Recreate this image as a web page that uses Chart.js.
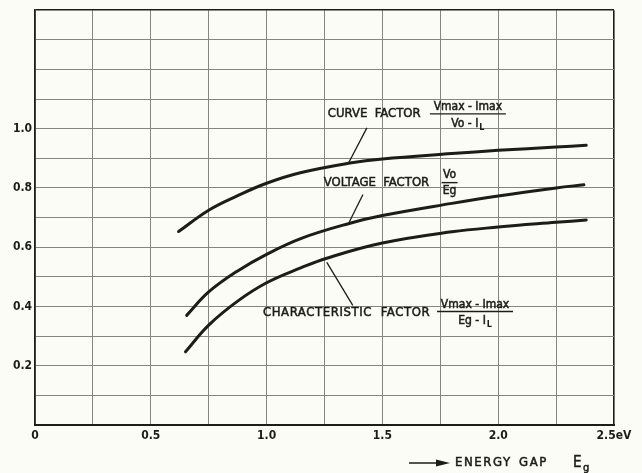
<!DOCTYPE html>
<html>
<head>
<meta charset="utf-8">
<script src="https://cdn.jsdelivr.net/npm/chart.js@4.4.0/dist/chart.umd.min.js"></script>
<style>
  html, body { margin: 0; padding: 0; background: #fcfcf6; }
  #wrap { width: 642px; height: 473px; }
</style>
</head>
<body>
<div id="wrap"><canvas id="grafico" width="642" height="473"></canvas></div>
<script>
// energia do gap (eV) e fatores
const cfX = [0.62, 0.75, 0.875, 1.0, 1.15, 1.36, 1.5, 1.8, 2.0, 2.25, 2.38];
const cfY = [0.653, 0.725, 0.774, 0.816, 0.852, 0.884, 0.898, 0.916, 0.927, 0.938, 0.944];

const vfX = [0.655, 0.75, 0.875, 1.0, 1.15, 1.36, 1.5, 1.8, 2.0, 2.25, 2.37];
const vfY = [0.37, 0.449, 0.52, 0.576, 0.63, 0.681, 0.707, 0.748, 0.773, 0.80, 0.811];

const chX = [0.65, 0.75, 0.875, 1.0, 1.15, 1.26, 1.5, 1.8, 2.0, 2.25, 2.38];
const chY = [0.247, 0.337, 0.418, 0.48, 0.531, 0.563, 0.614, 0.652, 0.668, 0.684, 0.692];

const xLabels = { 0: '0', 5: '0.5', 10: '1.0', 15: '1.5', 20: '2.0', 25: '2.5eV' };
const yLabels = { 2: '0.2', 4: '0.4', 6: '0.6', 8: '0.8', 10: '1.0' };

const FONTE = '"DejaVu Sans Condensed", "Liberation Sans Narrow", sans-serif';
const TINTA = '#1c1c18';
const GRADE = '#86867c';

function pontos(xs, ys) {
    return xs.map((x, i) => ({ x: x, y: ys[i] }));
}

function serie(nome, xs, ys) {
    return {
        label: nome,
        data: pontos(xs, ys),
        showLine: true,
        borderColor: TINTA,
        borderWidth: 3,
        borderCapStyle: 'round',
        pointRadius: 0,
        tension: 0.4,
        fill: false
    };
}

// texto com traco um pouco mais grosso, como letreiro a nanquim
function escrever(ctx, txt, x, y) {
    ctx.lineWidth = 0.5;
    ctx.fillText(txt, x, y);
    ctx.strokeText(txt, x, y);
}

// fracao do tipo  num / den  centrada em cx
function fracao(ctx, cx, yNum, yBar, yDen, num, den, sub, meia) {
    ctx.textAlign = 'center';
    escrever(ctx, num, cx, yNum);
    ctx.beginPath();
    ctx.lineWidth = 1.4;
    ctx.moveTo(cx - meia, yBar);
    ctx.lineTo(cx + meia, yBar);
    ctx.stroke();
    if (sub) {
        const w = ctx.measureText(den).width;
        escrever(ctx, den, cx - 3, yDen);
        const f = ctx.font;
        ctx.font = 'bold 9px ' + FONTE;
        ctx.textAlign = 'left';
        ctx.fillText(sub, cx - 3 + w / 2 + 1, yDen + 4);
        ctx.font = f;
    } else {
        escrever(ctx, den, cx, yDen);
    }
}

const anotacoes = {
    id: 'anotacoes',
    afterDatasetsDraw(chart) {
        const ctx = chart.ctx;
        const sx = chart.scales.x, sy = chart.scales.y;
        const px = v => sx.getPixelForValue(v);
        const py = v => sy.getPixelForValue(v);
        ctx.save();
        ctx.fillStyle = TINTA;
        ctx.strokeStyle = TINTA;
        ctx.textBaseline = 'middle';

        // linhas de chamada
        ctx.lineWidth = 1.3;
        [[1.433, 1.003, 1.355, 0.886],
         [1.416, 0.778, 1.357, 0.685],
         [1.26, 0.549, 1.372, 0.404]].forEach(l => {
            ctx.beginPath();
            ctx.moveTo(px(l[0]), py(l[1]));
            ctx.lineTo(px(l[2]), py(l[3]));
            ctx.stroke();
        });

        ctx.font = '13px ' + FONTE;
        ctx.textAlign = 'left';
        escrever(ctx, 'CURVE  FACTOR', px(1.264), py(1.05));
        escrever(ctx, 'VOLTAGE  FACTOR', px(1.247), py(0.818));
        ctx.letterSpacing = '0.6px';
        escrever(ctx, 'CHARACTERISTIC  FACTOR', px(0.984), py(0.38));
        ctx.letterSpacing = '0px';

        ctx.font = '12px ' + FONTE;
        fracao(ctx, px(1.869), py(1.074), py(1.05), py(1.018), 'Vmax - Imax', 'Vo - I', 'L', 38);
        fracao(ctx, px(1.79), py(0.845), py(0.818), py(0.789), 'Vo', 'Eg', null, 8);
        fracao(ctx, px(1.9), py(0.407), py(0.383), py(0.352), 'Vmax - Imax', 'Eg - I', 'L', 38);

        // titulo do eixo x com seta
        const yT = chart.chartArea.bottom + 38;
        ctx.lineWidth = 1.4;
        ctx.beginPath();
        ctx.moveTo(409, yT);
        ctx.lineTo(442, yT);
        ctx.stroke();
        ctx.beginPath();
        ctx.moveTo(450, yT);
        ctx.lineTo(436, yT - 3.5);
        ctx.lineTo(436, yT + 3.5);
        ctx.closePath();
        ctx.fill();
        ctx.font = '13px ' + FONTE;
        ctx.letterSpacing = '1.6px';
        ctx.textAlign = 'left';
        escrever(ctx, 'ENERGY', 455, yT);
        escrever(ctx, 'GAP', 519, yT);
        ctx.letterSpacing = '0px';
        ctx.font = '15px ' + FONTE;
        escrever(ctx, 'E', 573, yT);
        ctx.font = '11px ' + FONTE;
        escrever(ctx, 'g', 583, yT + 5);
        ctx.restore();
    }
};

const fundo = {
    id: 'fundo',
    beforeDraw(chart) {
        const ctx = chart.ctx;
        ctx.save();
        ctx.fillStyle = '#fcfcf6';
        ctx.fillRect(0, 0, chart.width, chart.height);
        ctx.restore();
    }
};

new Chart(document.getElementById('grafico').getContext('2d'), {
    type: 'scatter',
    data: {
        datasets: [
            serie('Curve factor', cfX, cfY),
            serie('Voltage factor', vfX, vfY),
            serie('Characteristic factor', chX, chY)
        ]
    },
    options: {
        responsive: false,
        animation: false,
        layout: { padding: { top: 9, right: 28, left: 0, bottom: 0 } },
        plugins: {
            legend: { display: false },
            tooltip: { enabled: false }
        },
        scales: {
            x: {
                type: 'linear',
                min: 0,
                max: 2.5,
                afterFit(axis) { axis.height = 48; },
                ticks: {
                    stepSize: 0.25,
                    autoSkip: false,
                    maxRotation: 0,
                    padding: 4,
                    color: TINTA,
                    font: { family: FONTE, size: 12, weight: 'bold' },
                    callback: v => {
                        const k = Math.round(v * 10);
                        return xLabels[k] !== undefined && Math.abs(v * 10 - k) < 1e-6 ? xLabels[k] : '';
                    }
                },
                grid: {
                    drawTicks: false,
                    color: c => (c.tick && c.tick.value >= 2.5 - 1e-6) ? TINTA : GRADE,
                    lineWidth: c => (c.tick && c.tick.value >= 2.5 - 1e-6) ? 1.6 : 1
                },
                border: { color: TINTA, width: 2 }
            },
            y: {
                min: 0,
                max: 1.4,
                afterFit(axis) { axis.width = 35; },
                ticks: {
                    stepSize: 0.1,
                    autoSkip: false,
                    padding: 3,
                    color: TINTA,
                    font: { family: FONTE, size: 12, weight: 'bold' },
                    callback: v => {
                        const k = Math.round(v * 10);
                        return yLabels[k] || '';
                    }
                },
                grid: {
                    drawTicks: false,
                    color: c => (c.tick && c.tick.value >= 1.4 - 1e-6) ? TINTA : GRADE,
                    lineWidth: c => (c.tick && c.tick.value >= 1.4 - 1e-6) ? 1.6 : 1
                },
                border: { color: TINTA, width: 1.6 }
            }
        }
    },
    plugins: [fundo, anotacoes]
});
</script>
</body>
</html>
